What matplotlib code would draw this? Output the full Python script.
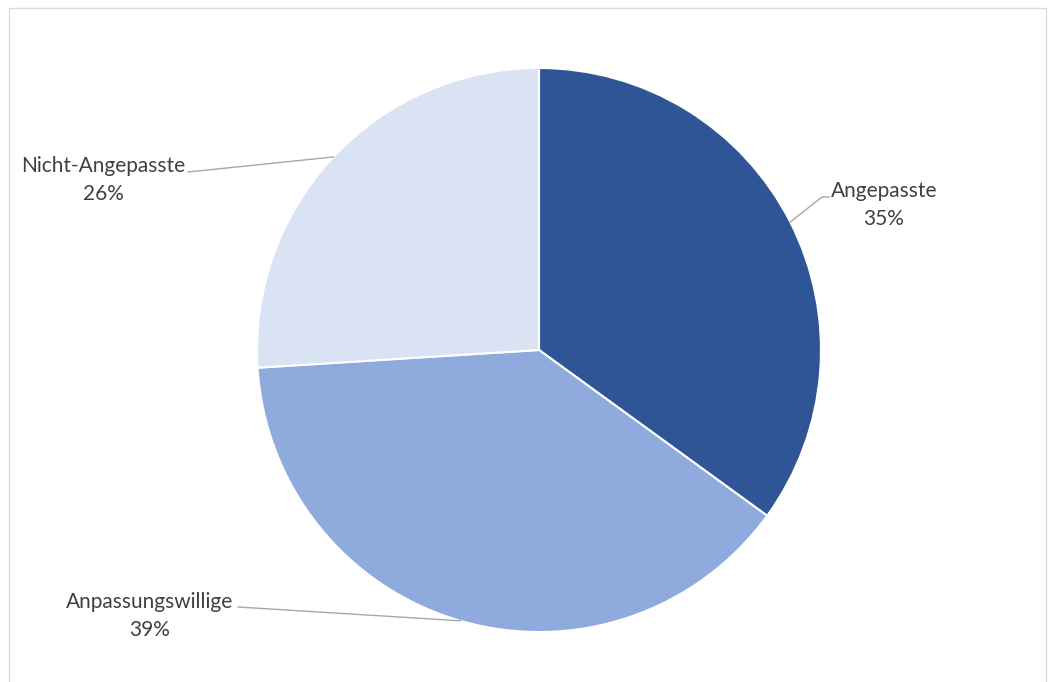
import numpy as np
import matplotlib.pyplot as plt
from matplotlib.patches import Rectangle

labels = ["Angepasste", "Anpassungswillige", "Nicht-Angepasste"]
shares = [35, 39, 26]
colors = ["#2F5597", "#8FAADC", "#DAE3F3"]

W, H = 1054, 682
cx, cy, r = 539, 350, 282

# label text anchor and leader-line end (pixel coords from top-left), per slice
text_pos = [(884, 205), (150, 616), (103, 180)]
line_end = [[(822, 197), (829, 197)], [(238, 607)], [(188, 172)]]

plt.rcParams['font.family'] = ['Lato', 'DejaVu Sans']

fig = plt.figure(figsize=(W / 100, H / 100), dpi=100)
ax = fig.add_axes([0, 0, 1, 1])


def fy(y):
    # pixel row -> data y
    return H - y


# chart frame
ax.add_patch(Rectangle((9, fy(708)), 1037, 700, fill=False, edgecolor="#D9D9D9", lw=1))

wedges, _ = ax.pie(shares, colors=colors, startangle=90, counterclock=False,
                   center=(cx, fy(cy)), radius=r, frame=True,
                   wedgeprops=dict(edgecolor="white", linewidth=1.5))
ax.set_xlim(0, W)
ax.set_ylim(0, H)
ax.set_aspect('equal')
ax.axis('off')

for w, lab, val, tp, ends in zip(wedges, labels, shares, text_pos, line_end):
    mid = np.deg2rad((w.theta1 + w.theta2) / 2)
    px = cx + r * np.cos(mid)
    py = fy(cy) + r * np.sin(mid)
    xs = [px] + [p[0] for p in ends]
    ys = [py] + [fy(p[1]) for p in ends]
    ax.plot(xs, ys, color="#A6A6A6", lw=1)
    ax.text(tp[0], fy(tp[1]), f"{lab}\n{val}%", ha="center", va="center",
            fontsize=15, color="#404040", linespacing=1.45)

fig.savefig("out.png", dpi=100)
